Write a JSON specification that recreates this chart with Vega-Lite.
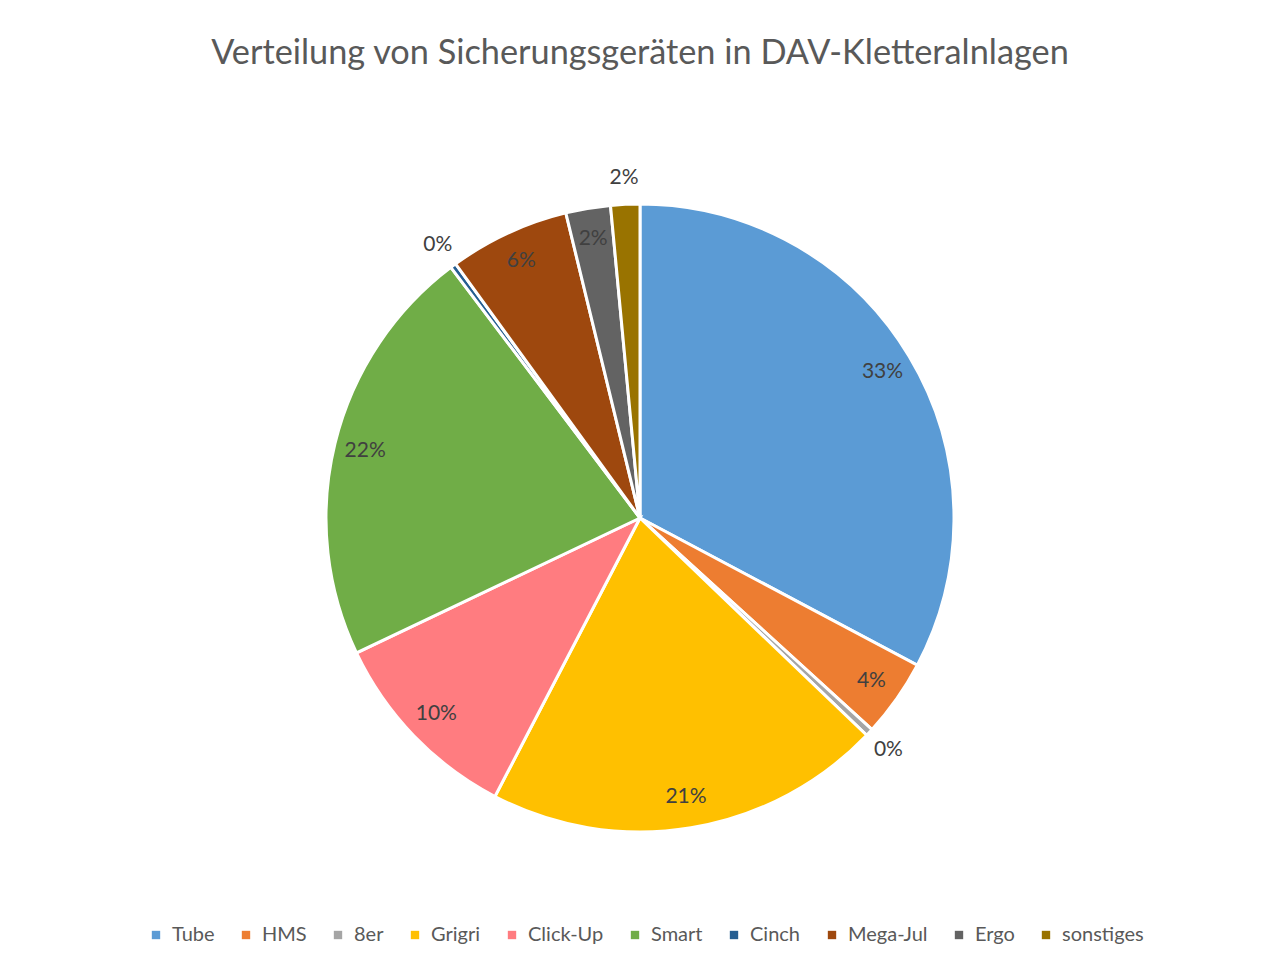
{
  "$schema": "https://vega.github.io/schema/vega-lite/v6.json",
  "width": 1266,
  "height": 656,
  "autosize": "none",
  "padding": {"left": 7, "top": 190, "right": 0, "bottom": 119},
  "background": "white",
  "title": {
    "text": "Verteilung von Sicherungsgeräten in DAV-Kletteralnlagen",
    "font": "Lato",
    "fontSize": 34.3,
    "fontWeight": "normal",
    "color": "#595959",
    "anchor": "middle",
    "offset": 96
  },
  "data": {
    "values": [
      {"device": "Tube", "share": 32.8, "idx": 1, "label": "33%"},
      {"device": "HMS", "share": 4.0, "idx": 2, "label": "4%"},
      {"device": "8er", "share": 0.4, "idx": 3, "label": "0%"},
      {"device": "Grigri", "share": 20.5, "idx": 4, "label": "21%"},
      {"device": "Click-Up", "share": 10.3, "idx": 5, "label": "10%"},
      {"device": "Smart", "share": 21.8, "idx": 6, "label": "22%"},
      {"device": "Cinch", "share": 0.3, "idx": 7, "label": "0%"},
      {"device": "Mega-Jul", "share": 6.2, "idx": 8, "label": "6%"},
      {"device": "Ergo", "share": 2.3, "idx": 9, "label": "2%"},
      {"device": "sonstiges", "share": 1.5, "idx": 10, "label": "2%"}
    ]
  },
  "encoding": {
    "theta": {"field": "share", "type": "quantitative", "stack": true},
    "order": {"field": "idx", "type": "quantitative"}
  },
  "layer": [
    {
      "mark": {"type": "arc", "outerRadius": 314, "stroke": "white", "strokeWidth": 3},
      "encoding": {
        "color": {
          "field": "device",
          "type": "nominal",
          "sort": ["Tube", "HMS", "8er", "Grigri", "Click-Up", "Smart", "Cinch", "Mega-Jul", "Ergo", "sonstiges"],
          "scale": {
            "domain": ["Tube", "HMS", "8er", "Grigri", "Click-Up", "Smart", "Cinch", "Mega-Jul", "Ergo", "sonstiges"],
            "range": ["#5B9BD5", "#ED7D31", "#A5A5A5", "#FFC000", "#FF7C80", "#70AD47", "#255E91", "#9E480E", "#636363", "#997300"]
          },
          "legend": {
            "title": null,
            "orient": "none",
            "legendX": 139,
            "legendY": 735,
            "direction": "horizontal",
            "columns": 10,
            "symbolType": "square",
            "symbolSize": 70,
            "symbolStrokeWidth": 0,
            "labelFont": "Lato",
            "labelFontSize": 20,
            "labelColor": "#595959",
            "labelOffset": 6,
            "columnPadding": 21,
            "labelLimit": 200
          }
        }
      }
    },
    {
      "mark": {"type": "text", "radius": 283, "font": "Lato", "fontSize": 21, "color": "#404040"},
      "encoding": {
        "text": {"condition": {"test": "datum.share >= 2", "field": "label", "type": "nominal"}, "value": ""}
      }
    },
    {
      "mark": {"type": "text", "radius": 340, "font": "Lato", "fontSize": 21, "color": "#404040"},
      "encoding": {
        "text": {"condition": {"test": "datum.share < 2", "field": "label", "type": "nominal"}, "value": ""}
      }
    }
  ],
  "config": {"view": {"stroke": null}}
}
